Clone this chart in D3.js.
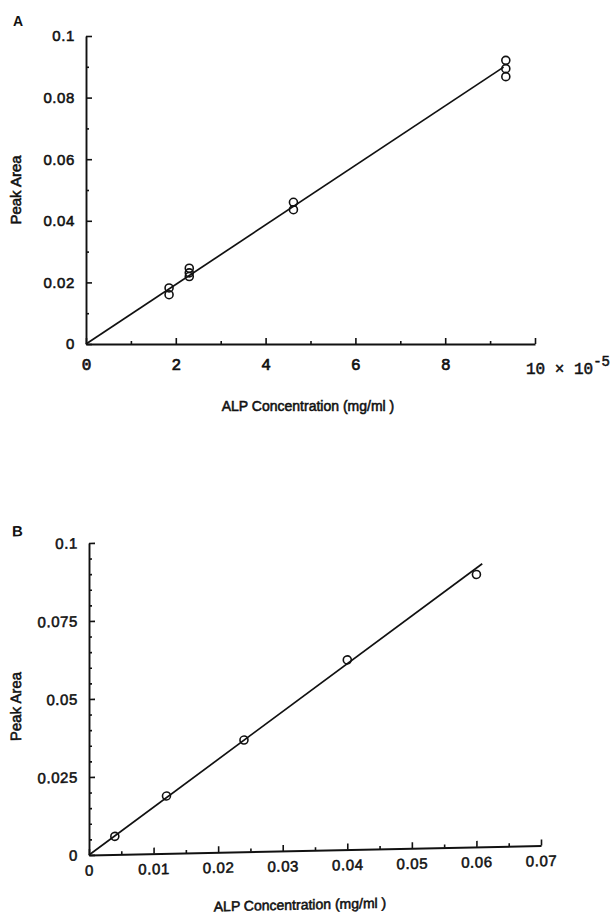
<!DOCTYPE html>
<html>
<head>
<meta charset="utf-8">
<script src="https://cdn.jsdelivr.net/npm/d3@7"></script>
<style>
  html, body { margin: 0; padding: 0; background: #fff; }
  svg { display: block; }
  text { fill: #111; font-family: "Liberation Sans", Arial, sans-serif; }
</style>
</head>
<body>
<svg id="chart" width="613" height="917"></svg>
<script>
// ---------- Panel A data (x in units of 10^-5 mg/ml) ----------
const concA = [1.85, 1.85, 2.3, 2.3, 2.3, 4.62, 4.62, 9.35, 9.35, 9.35];
const areaA = [0.0182, 0.0160, 0.0246, 0.0231, 0.0219, 0.0460, 0.0436, 0.0921, 0.0894, 0.0868];
const fitA_x = [0, 9.3];
const fitA_y = [0, 0.0899];
const xTicksA = [0, 2, 4, 6, 8, 10];
const xMinorA = [1, 3, 5, 7, 9];
const yTicksA = [0, 0.02, 0.04, 0.06, 0.08, 0.1];
const yMinorA = [0.01, 0.03, 0.05, 0.07, 0.09];
const yLabelsA = ["0", "0.02", "0.04", "0.06", "0.08", "0.1"];

// ---------- Panel B data (mg/ml) ----------
const concB = [0.004, 0.012, 0.024, 0.040, 0.060];
const areaB = [0.0058, 0.0184, 0.0358, 0.0608, 0.0873];
const fitB_x = [0, 0.0609];
const fitB_y = [0, 0.0907];
const xTicksB = [0, 0.01, 0.02, 0.03, 0.04, 0.05, 0.06, 0.07];
const xMinorB = [0.005, 0.015, 0.025, 0.035, 0.045, 0.055, 0.065];
const xLabelsB = ["0", "0.01", "0.02", "0.03", "0.04", "0.05", "0.06", "0.07"];
const yTicksB = [0, 0.025, 0.05, 0.075, 0.1];
const yMinorB = [0.005,0.01,0.015,0.02,0.03,0.035,0.04,0.045,0.055,0.06,0.065,0.07,0.08,0.085,0.09,0.095];
const yLabelsB = ["0", "0.025", "0.05", "0.075", "0.1"];

const xTitle = "ALP Concentration (mg/ml )";
const yTitle = "Peak Area";

const svg = d3.select("#chart");

function styleAxis(g) {
  g.selectAll("path.domain").attr("stroke", "#111").attr("stroke-width", 1.9);
  g.selectAll(".tick line").attr("stroke", "#111").attr("stroke-width", 1.6);
}

function drawPanel(cfg) {
  const g = svg.append("g").attr("transform", cfg.transform || null);
  const x = d3.scaleLinear().domain(cfg.xDomain).range(cfg.xRange);
  const y = d3.scaleLinear().domain(cfg.yDomain).range(cfg.yRange);
  const x0 = cfg.xRange[0], y0 = cfg.yRange[0];

  // minor ticks
  g.append("g").attr("transform", `translate(0,${y0})`)
    .call(d3.axisBottom(x).tickValues(cfg.xMinor).tickSize(-3).tickFormat(""))
    .call(gg => { gg.select(".domain").remove(); styleAxis(gg); });
  g.append("g").attr("transform", `translate(${x0},0)`)
    .call(d3.axisLeft(y).tickValues(cfg.yMinor).tickSize(-3).tickFormat(""))
    .call(gg => { gg.select(".domain").remove(); styleAxis(gg); });

  // major x axis
  const xa = g.append("g").attr("transform", `translate(0,${y0})`)
    .call(d3.axisBottom(x).tickValues(cfg.xTicks).tickSizeInner(-6).tickSizeOuter(0)
      .tickPadding(cfg.xPad).tickFormat((d, i) => cfg.xLabels[i]))
    .call(styleAxis);
  xa.selectAll(".tick text")
    .style("font-family", cfg.xFont)
    .style("font-size", cfg.xFontSize + "px")
    .style("letter-spacing", cfg.xLetter + "px")
    .attr("fill", "#111").attr("stroke", "#111").attr("stroke-width", cfg.xStroke);

  // major y axis
  const ya = g.append("g").attr("transform", `translate(${x0},0)`)
    .call(d3.axisLeft(y).tickValues(cfg.yTicks).tickSizeInner(-6).tickSizeOuter(0)
      .tickPadding(cfg.yPad).tickFormat((d, i) => cfg.yLabels[i]))
    .call(styleAxis);
  ya.selectAll(".tick text")
    .style("font-size", cfg.yFontSize + "px")
    .style("letter-spacing", "0.6px")
    .attr("fill", "#111").attr("stroke", "#111").attr("stroke-width", 0.55);

  // fit line
  const line = d3.line().x(d => x(d[0])).y(d => y(d[1]));
  g.append("path")
    .datum(cfg.fitX.map((v, i) => [v, cfg.fitY[i]]))
    .attr("d", line).attr("fill", "none").attr("stroke", "#111").attr("stroke-width", 1.7);

  // points
  g.selectAll("circle.pt").data(cfg.px.map((v, i) => [v, cfg.py[i]])).join("circle")
    .attr("class", "pt")
    .attr("cx", d => x(d[0])).attr("cy", d => y(d[1])).attr("r", 4)
    .attr("fill", "none").attr("stroke", "#111").attr("stroke-width", 1.6);

  // titles
  g.append("text").attr("x", cfg.xTitlePos[0]).attr("y", cfg.xTitlePos[1])
    .attr("text-anchor", "middle").style("font-size", "14px")
    .attr("stroke", "#111").attr("stroke-width", 0.55)
    .text(xTitle);
  g.append("text")
    .attr("transform", `translate(${cfg.yTitlePos[0]},${cfg.yTitlePos[1]}) rotate(-90)`)
    .attr("text-anchor", "middle").style("font-size", "15px")
    .attr("stroke", "#111").attr("stroke-width", 0.55)
    .text(yTitle);
  g.append("text").attr("x", cfg.letterPos[0]).attr("y", cfg.letterPos[1])
    .style("font-size", cfg.letterSize + "px").style("font-weight", "bold")
    .text(cfg.letter);
  return { g, x, y };
}

const monoFont = "'Liberation Mono', 'DejaVu Sans Mono', monospace";

// Panel A
const A = drawPanel({
  xDomain: [0, 10], xRange: [86, 535],
  yDomain: [0, 0.1], yRange: [344, 36],
  xTicks: xTicksA, xMinor: xMinorA,
  xLabels: xTicksA.map(d => d === 10 ? "" : String(d)),
  yTicks: yTicksA, yMinor: yMinorA, yLabels: yLabelsA,
  xFont: monoFont, xFontSize: 16, xLetter: 0, xPad: 15, xStroke: 0.7,
  yFontSize: 15, yPad: 11,
  fitX: fitA_x, fitY: fitA_y, px: concA, py: areaA,
  xTitlePos: [308, 411], yTitlePos: [21, 190],
  letter: "A", letterPos: [13, 26], letterSize: 14
});
// exponent label at the last tick
const expText = A.g.append("text")
  .attr("x", A.x(10) - 9).attr("y", 374)
  .style("font-family", monoFont)
  .style("font-size", "16px")
  .attr("stroke", "#111").attr("stroke-width", 0.5);
expText.append("tspan").text("10 \u00d7 10");
expText.append("tspan").attr("dy", -8).style("font-size", "14px").text("-5");

// Panel B (slightly skewed like the scanned original)
drawPanel({
  transform: "translate(89,855) skewY(-1.2) translate(-89,-855)",
  xDomain: [0, 0.07], xRange: [89, 541],
  yDomain: [0, 0.1], yRange: [855, 543],
  xTicks: xTicksB, xMinor: xMinorB, xLabels: xLabelsB,
  yTicks: yTicksB, yMinor: yMinorB, yLabels: yLabelsB,
  xFont: "'Liberation Sans', Arial, sans-serif", xFontSize: 15, xLetter: 0.6, xPad: 10, xStroke: 0.55,
  yFontSize: 15, yPad: 11,
  fitX: fitB_x, fitY: fitB_y, px: concB, py: areaB,
  xTitlePos: [300, 914], yTitlePos: [21, 705],
  letter: "B", letterPos: [12, 535], letterSize: 15
});
</script>
</body>
</html>
